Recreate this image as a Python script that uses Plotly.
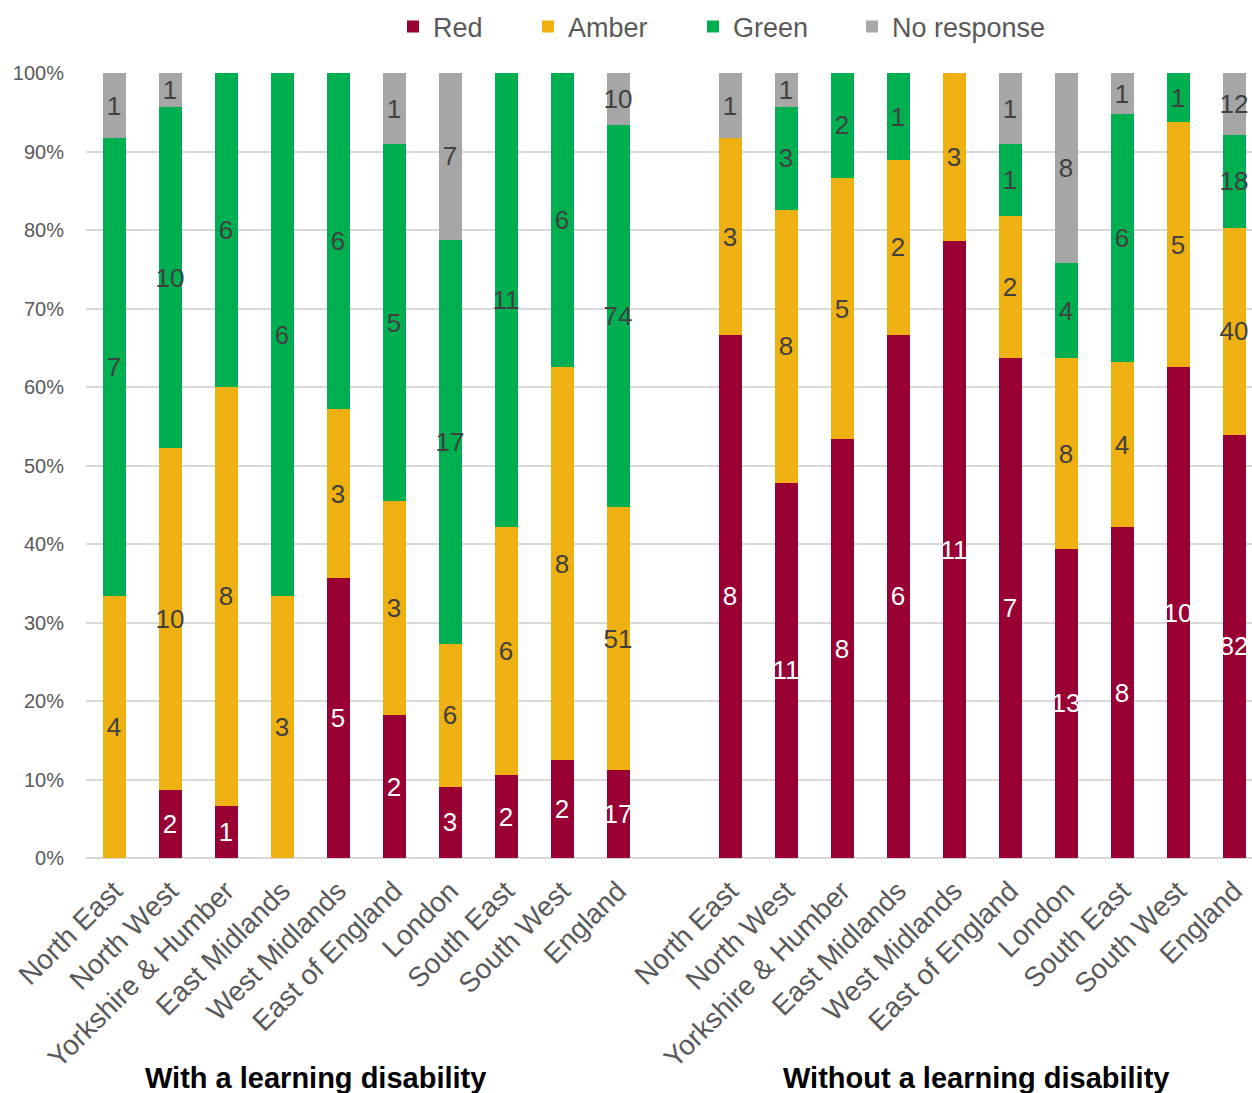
import plotly.graph_objects as go

categories = ["North East", "North West", "Yorkshire & Humber", "East Midlands",
              "West Midlands", "East of England", "London", "South East",
              "South West", "England"]
group_titles = ["With a learning disability", "Without a learning disability"]
series_names = ["Red", "Amber", "Green", "No response"]

# counts: with a learning disability
with_red = [0, 2, 1, 0, 5, 2, 3, 2, 2, 17]
with_amber = [4, 10, 8, 3, 3, 3, 6, 6, 8, 51]
with_green = [7, 10, 6, 6, 6, 5, 17, 11, 6, 74]
with_nr = [1, 1, 0, 0, 0, 1, 7, 0, 0, 10]

# counts: without a learning disability
without_red = [8, 11, 8, 6, 11, 7, 13, 8, 10, 82]
without_amber = [3, 8, 5, 2, 3, 2, 8, 4, 5, 40]
without_green = [0, 3, 2, 1, 0, 1, 4, 6, 1, 18]
without_nr = [1, 1, 0, 0, 0, 1, 8, 1, 0, 12]

colors = ["#990033", "#EEB111", "#00B050", "#A6A6A6"]
text_colors = ["#FFFFFF", "#404040", "#404040", "#404040"]

n = len(categories)
positions = list(range(n)) + [n + 1 + i for i in range(n)]
series_counts = [
    with_red + without_red,
    with_amber + without_amber,
    with_green + without_green,
    with_nr + without_nr,
]
totals = [sum(s[i] for s in series_counts) for i in range(2 * n)]

W, H = 1252, 1093
L, R, T, B = 86, 0, 73, 235
plot_w = W - L - R
plot_h = H - T - B
slot_px = 56
first_center_px = 114
x_lo = -(first_center_px - L) / slot_px
x_hi = x_lo + plot_w / slot_px

FONT = "Liberation Sans, Arial, sans-serif"

fig = go.Figure()
legend_px = [405, 540, 705, 864]
for k, name in enumerate(series_names):
    counts = series_counts[k]
    shares = [c / t for c, t in zip(counts, totals)]
    fig.add_trace(go.Bar(
        x=positions, y=shares, name=name,
        marker=dict(color=colors[k], line=dict(width=0)),
        width=23 / slot_px,
        text=[str(c) if c > 0 else "" for c in counts],
        textposition="inside", insidetextanchor="middle",
        textangle=0, constraintext="none",
        insidetextfont=dict(family=FONT, size=26, color=text_colors[k]),
        legend="legend" if k == 0 else f"legend{k+1}",
        hoverinfo="skip",
    ))

legend_common = dict(orientation="h", yanchor="middle", xanchor="left",
                     y=1 + (T - 27) / plot_h, bgcolor="rgba(0,0,0,0)",
                     itemwidth=30,
                     font=dict(family=FONT, size=27, color="#595959"))
legend_layout = {}
for k in range(4):
    key = "legend" if k == 0 else f"legend{k+1}"
    legend_layout[key] = dict(legend_common, x=(legend_px[k] - 12 - L) / plot_w)

fig.update_layout(
    width=W, height=H,
    margin=dict(l=L, r=R, t=T, b=B, pad=0),
    barmode="stack",
    paper_bgcolor="white", plot_bgcolor="white",
    showlegend=True,
    **legend_layout,
    xaxis=dict(range=[x_lo, x_hi], tickmode="array", tickvals=positions,
               ticktext=categories + categories, tickangle=-45,
               tickfont=dict(family=FONT, size=28, color="#595959"),
               showgrid=False, zeroline=False, showline=False, ticks="",
               ticklabelstandoff=10),
    yaxis=dict(range=[0, 1], dtick=0.1, tickformat=".0%",
               tickfont=dict(family=FONT, size=20, color="#595959"),
               showgrid=True, gridcolor="#D9D9D9", gridwidth=2,
               zeroline=True, zerolinecolor="#D9D9D9", zerolinewidth=2,
               showline=False, ticks="", ticklabelstandoff=21),
)

title_x = [3.6, 15.4]
for tx, title in zip(title_x, group_titles):
    fig.add_annotation(x=tx, xref="x", y=0, yref="paper", yshift=-(1078 - (H - B)),
                       text=f"<b>{title}</b>", showarrow=False,
                       xanchor="center", yanchor="middle",
                       font=dict(family=FONT, size=29, color="#000000"))

fig.write_html("out.html", config={"displayModeBar": False},
               post_script="document.body.style.margin='0';")
